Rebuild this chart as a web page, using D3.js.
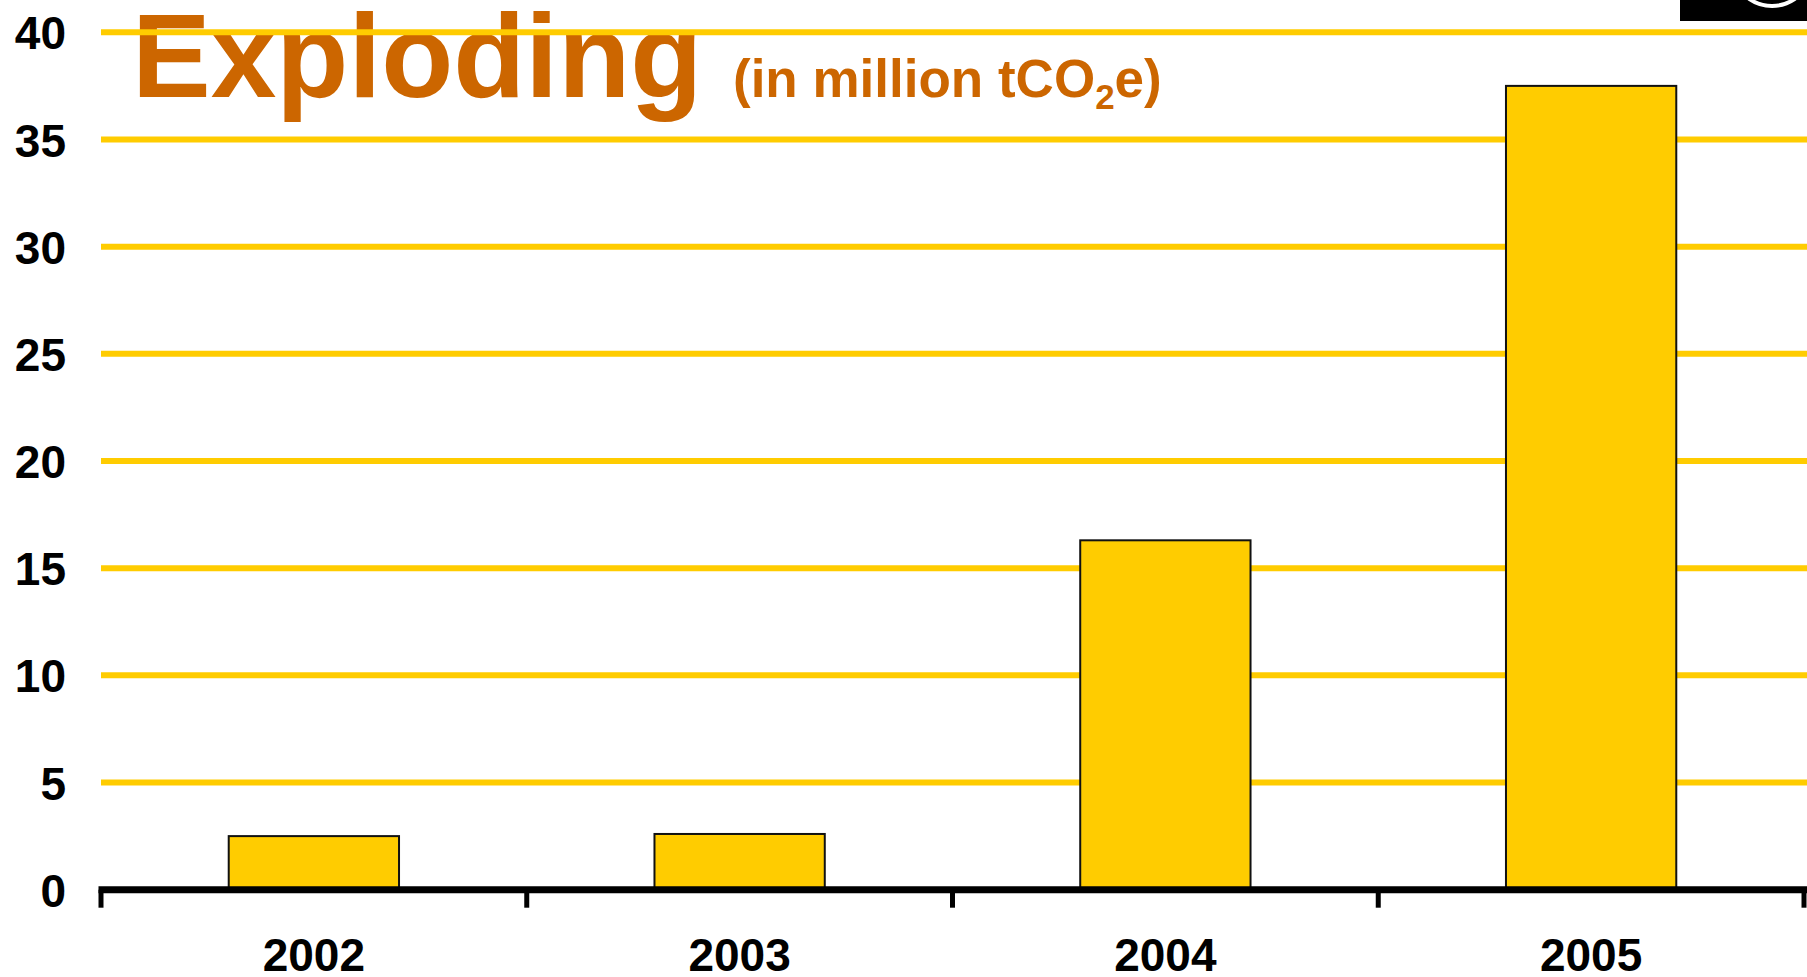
<!DOCTYPE html>
<html>
<head>
<meta charset="utf-8">
<script src="https://cdn.jsdelivr.net/npm/d3@7"></script>
<style>
  html, body { margin: 0; padding: 0; background: #fff; overflow: hidden; }
  svg { display: block; }
  text { font-family: "Liberation Sans", Arial, sans-serif; font-weight: bold; }
</style>
</head>
<body>
<svg id="chart" width="1807" height="977"></svg>
<script>
const years = ["2002", "2003", "2004", "2005"];
const values = [2.5, 2.6, 16.3, 37.5];
const yTicks = [0, 5, 10, 15, 20, 25, 30, 35, 40];
const titleText = "Exploding";
const subtitleParts = ["(in million tCO", "2", "e)"];

const svg = d3.select("#chart");
const W = 1807, H = 977;
const plotLeft = 101, plotRight = 1804, plotBottom = 889.7, plotTop = 32.3;

const x = d3.scaleBand().domain(years).range([plotLeft, plotRight]).paddingInner(0.6).paddingOuter(0.3);
const y = d3.scaleLinear().domain([0, 40]).range([plotBottom, plotTop]);

// logo fragment top-right
const logo = svg.append("g");
logo.append("rect").attr("x", 1680).attr("y", 0).attr("width", W - 1680).attr("height", 21).attr("fill", "#000");
logo.append("path")
  .attr("d", d3.arc()({innerRadius: 38, outerRadius: 42, startAngle: Math.PI * 0.62, endAngle: Math.PI * 1.38}))
  .attr("transform", "translate(1772,-34)")
  .attr("fill", "#fff");

// title
svg.append("text").attr("x", 132).attr("y", 97).attr("font-size", 118).attr("fill", "#CC6600").text(titleText);
const sub = svg.append("text").attr("x", 733).attr("y", 97).attr("font-size", 53).attr("fill", "#CC6600");
sub.append("tspan").text(subtitleParts[0]);
sub.append("tspan").attr("font-size", 35).attr("dy", 12).text(subtitleParts[1]);
sub.append("tspan").attr("dy", -12).text(subtitleParts[2]);

// gridlines
svg.append("g").selectAll("line").data(yTicks.filter(d => d > 0)).join("line")
  .attr("x1", plotLeft).attr("x2", W)
  .attr("y1", d => y(d)).attr("y2", d => y(d))
  .attr("stroke", "#FFCC00").attr("stroke-width", 6);

// bars
svg.append("g").selectAll("rect").data(years).join("rect")
  .attr("x", d => x(d))
  .attr("width", x.bandwidth())
  .attr("y", (d, i) => y(values[i]))
  .attr("height", (d, i) => y(0) - y(values[i]))
  .attr("fill", "#FFCC00").attr("stroke", "#111").attr("stroke-width", 2);

// y labels
const yAxis = d3.axisLeft(y).tickValues(yTicks).tickSize(0).tickPadding(0);
const gy = svg.append("g").attr("transform", "translate(66,0)").call(yAxis);
gy.select(".domain").remove();
gy.selectAll("text").attr("font-size", 46).attr("fill", "#000").attr("font-family", "Liberation Sans, Arial, sans-serif").attr("font-weight", "bold").attr("dy", "0.36em");

// x axis
const boundaries = years.map(d => x(d) - x.step() * x.paddingInner() / 2);
boundaries[0] = plotLeft;
boundaries.push(plotRight);
svg.append("line").attr("x1", plotLeft - 2.5).attr("x2", W).attr("y1", plotBottom).attr("y2", plotBottom)
  .attr("stroke", "#000").attr("stroke-width", 7);
svg.append("g").selectAll("line").data(boundaries).join("line")
  .attr("x1", d => d).attr("x2", d => d)
  .attr("y1", plotBottom).attr("y2", plotBottom + 18)
  .attr("stroke", "#000").attr("stroke-width", 5);

const xAxis = d3.axisBottom(x).tickSize(0).tickPadding(0);
const gx = svg.append("g").attr("transform", `translate(0,${plotBottom})`).call(xAxis);
gx.select(".domain").remove();
gx.selectAll("text").attr("font-size", 46).attr("fill", "#000").attr("font-family", "Liberation Sans, Arial, sans-serif").attr("font-weight", "bold").attr("dy", 0).attr("y", 81);
</script>
</body>
</html>
